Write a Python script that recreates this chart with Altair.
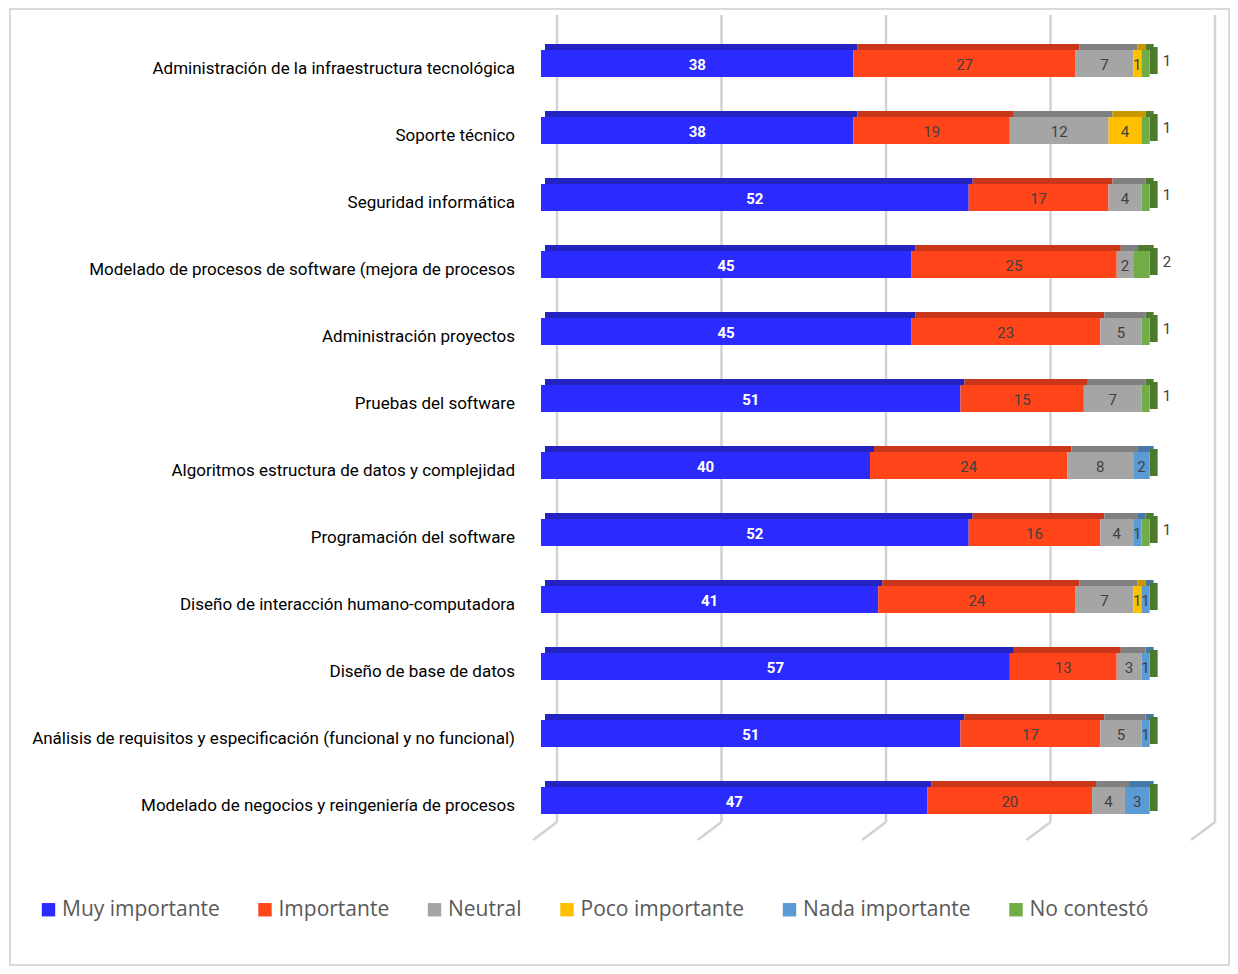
import altair as alt
import pandas as pd

categories = [
    "Administración de la infraestructura tecnológica",
    "Soporte técnico",
    "Seguridad informática",
    "Modelado de procesos de software (mejora de procesos",
    "Administración proyectos",
    "Pruebas del software",
    "Algoritmos estructura de datos y complejidad",
    "Programación del software",
    "Diseño de interacción humano-computadora",
    "Diseño de base de datos",
    "Análisis de requisitos y especificación (funcional y no funcional)",
    "Modelado de negocios y reingeniería de procesos",
]
series = ["Muy importante", "Importante", "Neutral", "Poco importante",
          "Nada importante", "No contestó"]
muy_importante = [38, 38, 52, 45, 45, 51, 40, 52, 41, 57, 51, 47]
importante = [27, 19, 17, 25, 23, 15, 24, 16, 24, 13, 17, 20]
neutral = [7, 12, 4, 2, 5, 7, 8, 4, 7, 3, 5, 4]
poco_importante = [1, 4, 0, 0, 0, 0, 0, 0, 1, 0, 0, 0]
nada_importante = [0, 0, 0, 0, 0, 0, 2, 1, 1, 1, 1, 3]
no_contesto = [1, 1, 1, 2, 1, 1, 0, 1, 0, 0, 0, 0]
grid_ticks = [0, 20, 40, 60, 80]

colors = ["#2B2BFF", "#FF4519", "#A5A5A5", "#FFC000", "#5B9BD5", "#70AD47"]
top_colors = ["#2323C2", "#C9361A", "#808080", "#C99600", "#4678A8", "#4E7D31"]

NARROW = "Roboto"

values = [muy_importante, importante, neutral, poco_importante, nada_importante, no_contesto]
rows = []
totals = []
for i, cat in enumerate(categories):
    start = 0
    for s, name in enumerate(series):
        v = values[s][i]
        rows.append({"cat": cat, "series": name, "value": v, "start": start,
                     "end": start + v, "mid": start + v / 2, "order": s,
                     "tc": top_colors[s],
                     "label": str(v) if v > 0 else ""})
        start += v
    totals.append({"cat": cat, "total": start})
df = pd.DataFrame(rows)
tot = pd.DataFrame(totals)
grid = pd.DataFrame({"v": grid_ticks})

W, H = 658, 804
xscale = alt.Scale(domain=[0, 80], nice=False, zero=True)
yscale = alt.Scale(domain=categories, paddingInner=0, paddingOuter=0)
cscale = alt.Scale(domain=series, range=colors)

Y = alt.Y("cat:N", sort=categories, scale=yscale, axis=None)

border = alt.Chart(grid).mark_rect(fill="transparent", stroke="#D9D9D9", strokeWidth=2).encode(
    x=alt.value(-531), x2=alt.value(W + 30), y=alt.value(-21), y2=alt.value(H + 131)
)

grid_v = alt.Chart(grid).mark_rule(xOffset=16, strokeWidth=2.5, color="#D2D2D2").encode(
    x=alt.X("v:Q", scale=xscale, axis=None), y=alt.value(-15), y2=alt.value(792)
)
grid_d = alt.Chart(grid).mark_rule(xOffset=16, x2Offset=-8, strokeWidth=2.5, color="#D2D2D2").encode(
    x=alt.X("v:Q", scale=xscale, axis=None), x2="v:Q", y=alt.value(792), y2=alt.value(810)
)

nz = df[df["value"] > 0]

top_face = alt.Chart(nz).mark_bar(size=6, yOffset=-16.5, xOffset=4, x2Offset=4).encode(
    x=alt.X("start:Q", scale=xscale, axis=None), x2="end:Q", y=Y,
    fill=alt.Fill("tc:N", scale=None, legend=None),
)

side_face = alt.Chart(tot).mark_bar(size=27, yOffset=-3, x2Offset=8, color="#4A7A2A").encode(
    x=alt.X("total:Q", scale=xscale, axis=None), x2="total:Q", y=Y
)

front = alt.Chart(nz).mark_bar(size=27).encode(
    x=alt.X("start:Q", scale=xscale, axis=None), x2="end:Q", y=Y,
    color=alt.Color(
        "series:N", scale=cscale, sort=series,
        legend=alt.Legend(
            title=None, orient="none", legendX=-503, legendY=869, direction="horizontal",
            columns=6, columnPadding=34.5, symbolType="square", symbolSize=180,
            symbolStrokeWidth=0, labelFont="Open Sans", labelFontSize=21,
            labelColor="#595959", labelOffset=3, labelLimit=300,
        ),
    ),
)

lab_blue = alt.Chart(nz[nz["order"] == 0]).mark_text(
    font=NARROW, fontSize=15, fontWeight="bold", color="white", dy=1
).encode(x=alt.X("mid:Q", scale=xscale, axis=None), y=Y, text="label:N")

lab_in = alt.Chart(nz[(nz["order"] > 0) & (nz["order"] < 5)]).mark_text(
    font=NARROW, fontSize=15, color="#404040", dy=1
).encode(x=alt.X("mid:Q", scale=xscale, axis=None), y=Y, text="label:N")

lab_out = alt.Chart(nz[nz["order"] == 5]).mark_text(
    font=NARROW, fontSize=15, color="#404040", align="left", dx=13, dy=-3
).encode(x=alt.X("end:Q", scale=xscale, axis=None), y=Y, text="label:N")

cat_labels = alt.Chart(tot).mark_text(
    font=NARROW, fontSize=17, color="#000000", align="right", dy=5
).encode(x=alt.value(-26), y=Y, text="cat:N")

chart = alt.layer(
    border, grid_v, grid_d, top_face, side_face, front, lab_blue, lab_in, lab_out, cat_labels
).properties(
    width=W, height=H,
    autosize=alt.AutoSizeParams(type="none"),
    padding={"left": 533, "top": 22, "right": 31, "bottom": 132},
).configure(
    background="white", view=alt.ViewConfig(stroke="transparent")
)

chart.save("out.html", embed_options={"renderer": "svg", "actions": False})
